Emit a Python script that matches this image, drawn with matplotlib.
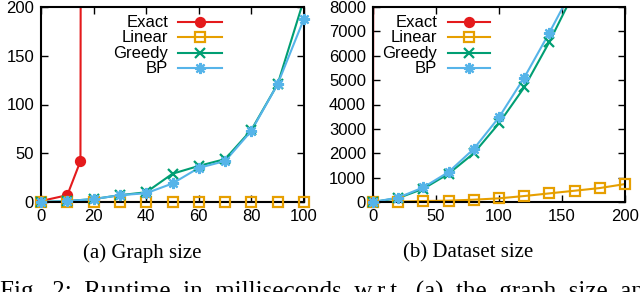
import numpy as np
import matplotlib.pyplot as plt
from matplotlib.lines import Line2D

# (a) Graph size
xa = [0, 10, 20, 30, 40, 50, 60, 70, 80, 90, 100]
exact_a_x = [0, 10, 15, 20]
exact_a = [1, 7, 42, 10000]
linear_a = [0, 0, 0, 0, 0, 0, 0, 0, 0, 0, 0]
greedy_a = [0, 1, 3, 7, 10, 29, 37, 44, 74, 121, 208]
bp_a = [0, 1, 3, 7, 9, 19, 35, 42, 73, 121, 188]

# (b) Dataset size
xb = [0, 20, 40, 60, 80, 100, 120, 140, 160, 180, 200]
exact_b_x = [0, 20]
exact_b = [0, 1000000]
linear_b = [0, 14, 40, 55, 95, 150, 245, 354, 463, 572, 736]
greedy_b = [0, 160, 545, 1160, 2000, 3230, 4700, 6570, 8650, 11000, 13800]
bp_b = [0, 180, 600, 1230, 2180, 3475, 5100, 6950, 8900, 11300, 14000]

names = ["Exact", "Linear", "Greedy", "BP"]
colors = ["#e41a1c", "#e69f00", "#009e73", "#56b4e9"]
markers = ["o", "s", "x", (8, 2, 0)]
mfc = ["#e41a1c", "none", "#009e73", "#56b4e9"]
msize = [6.5, 7, 7, 8]

plt.rcParams['font.family'] = ['Liberation Sans', 'DejaVu Sans']

W, H = 640, 292
fig = plt.figure(figsize=(W / 100, H / 100), dpi=100)


def px_axes(l, r, t, b):
    return fig.add_axes([l / W, (H - b) / H, (r - l) / W, (b - t) / H])


def draw(ax, series, xlim, ylim):
    for i, (x, y) in enumerate(series):
        x = np.array(x, float)
        y = np.array(y, float)
        ax.plot(x, y, color=colors[i], lw=1.5, zorder=2)
        m = (y <= ylim[1]) & (x <= xlim[1])
        ax.plot(x[m], y[m], ls='none', marker=markers[i], color=colors[i],
                mfc=mfc[i], mew=1.6, ms=msize[i], clip_on=False, zorder=3)
    ax.set_xlim(*xlim)
    ax.set_ylim(*ylim)
    ax.tick_params(direction='in', top=True, right=True, length=5,
                   width=1, labelsize=12, pad=5)
    for s in ax.spines.values():
        s.set_linewidth(1.5)


def legend(ax, xt, x0, x1, ys):
    for i, y in enumerate(ys):
        ax.text(xt, y, names[i], transform=ax.transAxes, ha='right',
                va='center', fontsize=12)
        ax.add_line(Line2D([x0, x1], [y, y], transform=ax.transAxes,
                           color=colors[i], lw=1.5, zorder=4))
        ax.add_line(Line2D([(x0 + x1) / 2], [y], transform=ax.transAxes,
                           ls='none', marker=markers[i], color=colors[i],
                           mfc=mfc[i], mew=1.6, ms=msize[i], zorder=4))


ax1 = px_axes(41, 304, 7, 202)
draw(ax1, [(exact_a_x, exact_a), (xa, linear_a), (xa, greedy_a), (xa, bp_a)],
     (0, 100), (0, 200))
ax1.set_xticks([0, 20, 40, 60, 80, 100])
ax1.set_yticks([0, 50, 100, 150, 200])
legend(ax1, 0.483, 0.521, 0.688, [0.923, 0.846, 0.764, 0.687])

ax2 = px_axes(373, 625, 7, 202)
draw(ax2, [(exact_b_x, exact_b), (xb, linear_b), (xb, greedy_b), (xb, bp_b)],
     (0, 200), (0, 8000))
ax2.set_xticks([0, 50, 100, 150, 200])
ax2.set_yticks(range(0, 8001, 1000))
legend(ax2, 0.254, 0.298, 0.464, [0.923, 0.846, 0.764, 0.687])

serif = ['Liberation Serif', 'DejaVu Serif']
fig.text(142 / W, 1 - 253 / H, "(a) Graph size", ha='center', va='center',
         fontsize=15, family=serif)
fig.text(468 / W, 1 - 253 / H, "(b) Dataset size", ha='center', va='center',
         fontsize=15, family=serif)
fig.text(0 / W, 1 - 281 / H,
         "Fig.  2:  Runtime  in  milliseconds  w.r.t.  (a)  the  graph  size  and  the  cardinality",
         ha='left', va='top', fontsize=18, family=serif)

fig.savefig("out.png", dpi=100)
